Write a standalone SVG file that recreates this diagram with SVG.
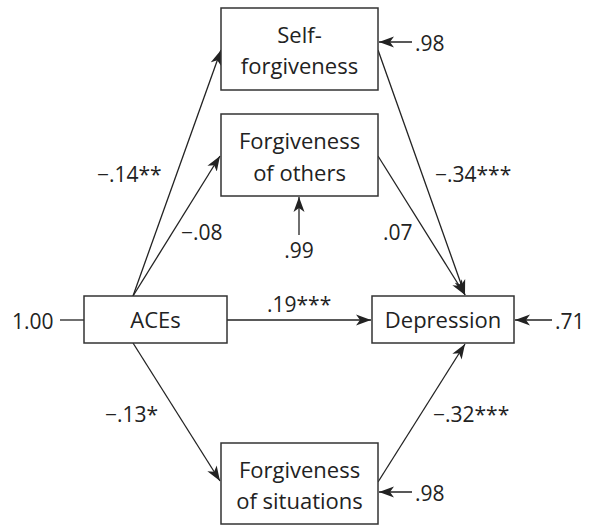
<svg xmlns="http://www.w3.org/2000/svg" width="596" height="525" viewBox="0 0 596 525">
<style>
.box{fill:#fff;stroke:#333;stroke-width:1.5}
.lbl{font-family:"Open Sans","Liberation Sans",sans-serif;font-size:22px;fill:#222;text-anchor:middle}
.num{font-family:"Open Sans","Liberation Sans",sans-serif;font-size:21px;fill:#222}
.ln{stroke:#222;stroke-width:1.3;fill:none}
.arr{marker-end:url(#ah)}
</style>
<defs>
<marker id="ah" markerUnits="userSpaceOnUse" markerWidth="16" markerHeight="12" refX="15" refY="6" orient="auto">
<path d="M0,0.5 L15,6 L0,11.5 L4,6 Z" fill="#222"/>
</marker>
</defs>
<rect width="596" height="525" fill="#fff"/>
<g id="connectors">
<line class="ln arr" x1="133" y1="296" x2="221" y2="50"/>
<line class="ln arr" x1="133" y1="296" x2="220" y2="156"/>
<line class="ln arr" x1="133" y1="343" x2="220" y2="481"/>
<line class="ln arr" x1="227" y1="320" x2="371" y2="320"/>
<line class="ln arr" x1="378" y1="50" x2="465" y2="295"/>
<line class="ln arr" x1="378" y1="156" x2="465" y2="295"/>
<line class="ln arr" x1="378" y1="482" x2="465" y2="344"/>
<line class="ln arr" x1="412" y1="42" x2="379" y2="42"/>
<line class="ln arr" x1="299" y1="235" x2="299" y2="197"/>
<line class="ln arr" x1="552" y1="320" x2="515" y2="320"/>
<line class="ln arr" x1="412" y1="492" x2="379" y2="492"/>
<line class="ln" x1="60" y1="320" x2="84" y2="320"/>
</g>
<g id="labels">
<text class="num" x="97" y="182">−.14**</text>
<text class="num" x="181" y="240">−.08</text>
<text class="num" x="267" y="312">.19***</text>
<text class="num" x="383" y="240">.07</text>
<text class="num" x="435" y="182">−.34***</text>
<text class="num" x="105" y="422">−.13*</text>
<text class="num" x="433" y="422">−.32***</text>
<text class="num" x="415" y="51">.98</text>
<text class="num" x="415" y="501">.98</text>
<text class="num" x="555" y="329">.71</text>
<text class="num" x="299" y="258" text-anchor="middle">.99</text>
<text class="num" x="12" y="329">1.00</text>
</g>
<g id="self-forgiveness">
<rect class="box" x="221" y="8" width="157" height="82"/>
<text class="lbl" x="299.5" y="43">Self-</text>
<text class="lbl" x="299.5" y="74">forgiveness</text>
</g>
<g id="forgiveness-of-others">
<rect class="box" x="221" y="114" width="157" height="82"/>
<text class="lbl" x="299.5" y="149">Forgiveness</text>
<text class="lbl" x="299.5" y="181">of others</text>
</g>
<g id="aces">
<rect class="box" x="84" y="296" width="143" height="47"/>
<text class="lbl" x="155.5" y="328">ACEs</text>
</g>
<g id="depression">
<rect class="box" x="372" y="296" width="142" height="47"/>
<text class="lbl" x="443" y="328">Depression</text>
</g>
<g id="forgiveness-of-situations">
<rect class="box" x="221" y="443" width="157" height="81"/>
<text class="lbl" x="299.5" y="478">Forgiveness</text>
<text class="lbl" x="299.5" y="509">of situations</text>
</g>
</svg>
